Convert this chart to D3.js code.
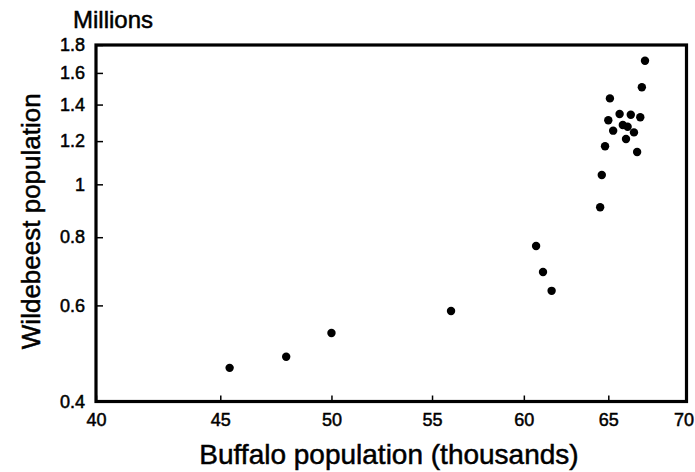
<!DOCTYPE html>
<html>
<head>
<meta charset="utf-8">
<script src="https://cdn.jsdelivr.net/npm/d3@7"></script>
<style>
  html, body { margin: 0; padding: 0; background: #fff; }
  svg { display: block; }
  text { font-family: "Liberation Sans", Arial, Helvetica, sans-serif; fill: #000; stroke: #000; stroke-width: 0.5px; }
</style>
</head>
<body>
<svg id="chart" width="695" height="472"></svg>
<script>
// Data (buffalo in thousands, wildebeest in millions)
const buffalo = [45.4, 47.9, 50.0, 56.0, 60.7, 61.1, 61.6,
  64.5, 64.6, 64.8, 65.0, 65.1, 65.3, 65.7, 65.9, 66.1, 66.2, 66.4, 66.6, 66.8, 67.0, 67.1, 67.3];
const wildebeest = [0.461, 0.483, 0.534, 0.586, 0.771, 0.691, 0.638,
  0.908, 1.040, 1.174, 1.310, 1.437, 1.254, 1.345, 1.284, 1.211, 1.275, 1.341, 1.245, 1.146, 1.327, 1.506, 1.684];
const xTicks = [40, 45, 50, 55, 60, 65, 70];
const xTickLabels = ["40", "45", "50", "55", "60", "65", "70"];
const yTicks = [0.4, 0.6, 0.8, 1, 1.2, 1.4, 1.6, 1.8];
const yTickLabels = ["0.4", "0.6", "0.8", "1", "1.2", "1.4", "1.6", "1.8"];

const svg = d3.select("#chart");
const mLeft = 96, mRight = 686.5, mTop = 45, mBottom = 401.5;

const x = d3.scaleLog().domain([40, 70]).range([mLeft, mRight]);
const y = d3.scaleLog().domain([0.4, 1.8]).range([mBottom, mTop]);

// X axis (ticks point inward)
const xAxis = svg.append("g")
  .attr("transform", `translate(0,${mBottom})`)
  .call(d3.axisBottom(x).tickValues(xTicks).tickSize(-6).tickPadding(12)
    .tickFormat((d, i) => xTickLabels[i]));
xAxis.select(".domain").remove();
xAxis.selectAll(".tick line").attr("stroke", "#000").attr("stroke-width", 1.5);
xAxis.selectAll(".tick text").style("font-size", "18px").attr("dy", "0.71em")
  .attr("dx", (d, i) => i === xTicks.length - 1 ? -3 : 0);

// Y axis (ticks point inward)
const yAxis = svg.append("g")
  .attr("transform", `translate(${mLeft},0)`)
  .call(d3.axisLeft(y).tickValues(yTicks).tickSize(-7).tickPadding(11)
    .tickFormat((d, i) => yTickLabels[i]));
yAxis.select(".domain").remove();
yAxis.selectAll(".tick line").attr("stroke", "#000").attr("stroke-width", 1.5);
yAxis.selectAll(".tick text").style("font-size", "18px");

// Frame
svg.append("rect")
  .attr("x", mLeft).attr("y", mTop)
  .attr("width", mRight - mLeft).attr("height", mBottom - mTop)
  .attr("fill", "none").attr("stroke", "#000").attr("stroke-width", 3.2);

// Points
const pts = buffalo.map((b, i) => ({ b, w: wildebeest[i] }));
svg.append("g").selectAll("circle").data(pts).join("circle")
  .attr("cx", d => x(d.b)).attr("cy", d => y(d.w)).attr("r", 4.2)
  .attr("fill", "#000");

// Titles
svg.append("text").attr("x", 73).attr("y", 28)
  .style("font-size", "24px").text("Millions");

svg.append("text")
  .attr("transform", `translate(40,${(mTop + mBottom) / 2 - 2}) rotate(-90)`)
  .attr("text-anchor", "middle")
  .style("font-size", "26px").text("Wildebeest population");

svg.append("text").attr("x", 389).attr("y", 464)
  .attr("text-anchor", "middle")
  .style("font-size", "28px").text("Buffalo population (thousands)");
</script>
</body>
</html>
